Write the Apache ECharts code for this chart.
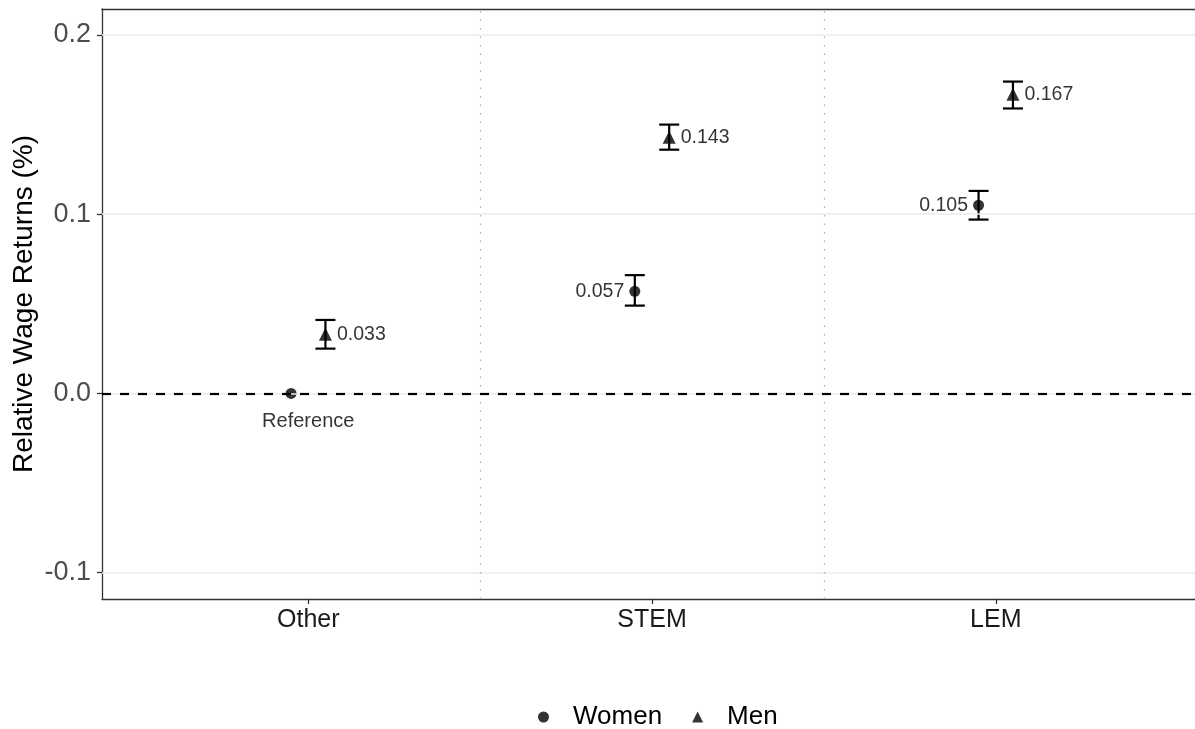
<!DOCTYPE html>
<html><head><meta charset="utf-8">
<script src="https://cdn.jsdelivr.net/npm/echarts@6/dist/echarts.min.js"></script>
<style>html,body{margin:0;padding:0;background:#fff}#c{width:1195px;height:729px}</style>
</head><body><div id="c"></div>
<script>
// ---- data ----
const categories = ['Other', 'STEM', 'LEM'];
const womenValues = [0, 0.057, 0.105];
const womenLo = [null, 0.049, 0.097];
const womenHi = [null, 0.066, 0.113];
const womenLabels = ['', '0.057', '0.105'];
const menValues = [0.033, 0.143, 0.167];
const menLo = [0.025, 0.136, 0.159];
const menHi = [0.041, 0.150, 0.174];
const menLabels = ['0.033', '0.143', '0.167'];
const yTicks = [-0.1, 0, 0.1, 0.2];
const separators = [1.5, 2.5];
const yTitle = 'Relative Wage Returns (%)';
const refNote = { category: 'Other', y: -0.0155, text: 'Reference' };

// ---- layout / style constants ----
const DODGE = 0.05;
const FONT = "'Liberation Sans', Arial, Helvetica, sans-serif";
const BORDER = { color: '#333', width: 1.3 };
const catPos = c => categories.indexOf(c) + 1;

const womenPts = categories.map((c, i) => [catPos(c) - DODGE, womenValues[i]]);
const menPts = categories.map((c, i) => [catPos(c) + DODGE, menValues[i]]);
const errData = [];
categories.forEach((c, i) => {
  if (womenLo[i] != null) errData.push([catPos(c) - DODGE, womenLo[i], womenHi[i]]);
  if (menLo[i] != null) errData.push([catPos(c) + DODGE, menLo[i], menHi[i]]);
});

const chart = echarts.init(document.getElementById('c'), null, { renderer: 'canvas' });
chart.setOption({
  animation: false,
  backgroundColor: '#fff',
  textStyle: { fontFamily: FONT },
  grid: { left: 102, width: 1100, top: 9, height: 590, show: false, containLabel: false, outerBoundsMode: 'none' },
  graphic: [{
    type: 'text', x: 24, y: 304, rotation: Math.PI / 2, silent: true,
    style: { text: yTitle, fontSize: 28, fill: '#000', fontFamily: FONT, align: 'center', verticalAlign: 'middle' }
  }],
  legend: {
    left: 533, top: 699, itemWidth: 11, itemHeight: 11, itemGap: 30, selectedMode: false,
    textStyle: { fontSize: 26, color: '#000', fontFamily: FONT, padding: [0, 0, 0, 19] },
    data: [{ name: 'Women', icon: 'circle' }, { name: 'Men', icon: 'triangle' }]
  },
  xAxis: [{
    type: 'value', min: 0.4, max: 3.6, position: 'bottom',
    axisLine: { show: true, onZero: false, lineStyle: BORDER },
    splitLine: { show: false },
    axisTick: { show: true, customValues: [1, 2, 3], length: 5, lineStyle: BORDER },
    axisLabel: { customValues: [1, 2, 3], formatter: v => categories[Math.round(v) - 1], fontSize: 25, color: '#1A1A1A', margin: 9, fontFamily: FONT }
  }, {
    type: 'value', min: 0.4, max: 3.6, position: 'top',
    axisLine: { show: true, onZero: false, lineStyle: BORDER },
    splitLine: { show: false }, axisTick: { show: false }, axisLabel: { show: false }
  }],
  yAxis: {
    type: 'value', min: -0.1147, max: 0.2145,
    axisLine: { show: true, onZero: false, lineStyle: BORDER },
    splitLine: { show: false },
    axisTick: { show: true, customValues: yTicks, length: 5, lineStyle: BORDER },
    axisLabel: { customValues: yTicks, formatter: v => v.toFixed(1), fontSize: 27, color: '#4D4D4D', margin: 11, fontFamily: FONT }
  },
  series: [
    {
      name: '_guides', type: 'scatter', data: [], silent: true, z: 1,
      markLine: {
        silent: true, symbol: 'none', animation: false, label: { show: false },
        data: [
          ...yTicks.map(v => ({ yAxis: v, lineStyle: { color: '#EBEBEB', width: 1.6, type: 'solid' } })),
          ...separators.map(v => ({ xAxis: v, lineStyle: { color: '#AFAFAF', width: 1.4, type: [1.5, 7] } }))
        ]
      }
    },
    {
      name: '_zero', type: 'scatter', data: [], silent: true, z: 2,
      markLine: {
        silent: true, symbol: 'none', animation: false, label: { show: false },
        data: [{ yAxis: 0, lineStyle: { color: '#000', width: 2.2, type: [9, 9] } }]
      }
    },
    {
      name: '_err', type: 'custom', z: 3, silent: true, data: errData,
      renderItem: (params, api) => {
        const x = api.value(0);
        const pLo = api.coord([x, api.value(1)]);
        const pHi = api.coord([x, api.value(2)]);
        const w = 10;
        const st = { stroke: '#000', lineWidth: 2.2 };
        return {
          type: 'group', children: [
            { type: 'line', shape: { x1: pLo[0], y1: pLo[1], x2: pHi[0], y2: pHi[1] }, style: st },
            { type: 'line', shape: { x1: pHi[0] - w, y1: pHi[1], x2: pHi[0] + w, y2: pHi[1] }, style: st },
            { type: 'line', shape: { x1: pLo[0] - w, y1: pLo[1], x2: pLo[0] + w, y2: pLo[1] }, style: st }
          ]
        };
      }
    },
    {
      name: 'Women', type: 'scatter', z: 4, data: womenPts, symbol: 'circle', symbolSize: 11,
      itemStyle: { color: '#000' },
      label: { show: true, position: 'left', distance: 5, fontSize: 19.5, color: '#000', fontFamily: FONT, formatter: p => womenLabels[p.dataIndex] }
    },
    {
      name: 'Men', type: 'scatter', z: 4, data: menPts, symbol: 'triangle', symbolSize: 13,
      itemStyle: { color: '#000' },
      label: { show: true, position: 'right', distance: 5, fontSize: 19.5, color: '#000', fontFamily: FONT, formatter: p => menLabels[p.dataIndex] }
    },
    {
      name: '_note', type: 'scatter', z: 4, silent: true, symbolSize: 0,
      data: [[catPos(refNote.category), refNote.y]],
      label: { show: true, position: 'inside', fontSize: 20, color: '#000', fontFamily: FONT, formatter: refNote.text }
    }
  ]
});
</script></body></html>
